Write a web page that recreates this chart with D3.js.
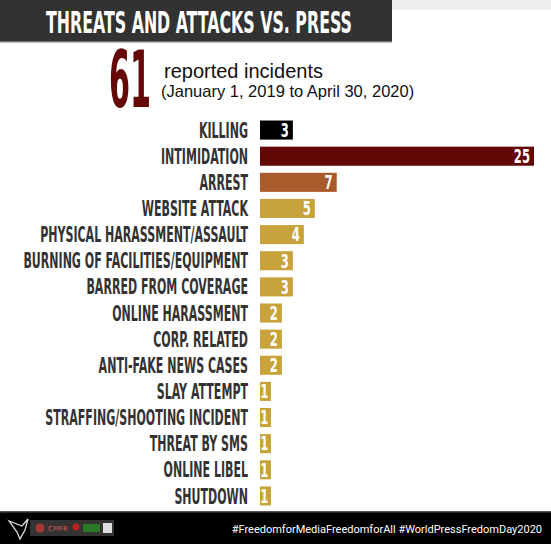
<!DOCTYPE html>
<html>
<head>
<meta charset="utf-8">
<script src="https://cdn.jsdelivr.net/npm/d3@7"></script>
<style>
	html, body { margin: 0; padding: 0; background: #fff; }
	svg { display: block; }
</style>
</head>
<body>
<svg id="chart" width="551" height="544"></svg>
<script>

// data
var categories = ["KILLING", "INTIMIDATION", "ARREST", "WEBSITE ATTACK", "PHYSICAL HARASSMENT/ASSAULT",
	"BURNING OF FACILITIES/EQUIPMENT", "BARRED FROM COVERAGE", "ONLINE HARASSMENT", "CORP. RELATED",
	"ANTI-FAKE NEWS CASES", "SLAY ATTEMPT", "STRAFFING/SHOOTING INCIDENT", "THREAT BY SMS", "ONLINE LIBEL", "SHUTDOWN"];
var counts = [3, 25, 7, 5, 4, 3, 3, 2, 2, 2, 1, 1, 1, 1, 1];
var barColors = ["#000000", "#620606", "#a95b2b", "#c8a23b", "#c8a23b", "#c8a23b", "#c8a23b", "#c8a23b",
	"#c8a23b", "#c8a23b", "#c8a23b", "#c8a23b", "#c8a23b", "#c8a23b", "#c8a23b"];
var total = "61";
var titleText = "THREATS AND ATTACKS VS. PRESS";
var subLine1 = "reported incidents";
var subLine2 = "(January 1, 2019 to April 30, 2020)";
var footerText = "#FreedomforMediaFreedomforAll #WorldPressFredomDay2020";

const condensed = "'DejaVu Sans Condensed', 'Liberation Sans Narrow', sans-serif";

const svg = d3.select('#chart');

// squeeze a text node horizontally so it spans the wanted width
function squeeze(sel, targetW, anchorX) {
	const w = sel.node().getComputedTextLength();
	const k = targetW / w;
	sel.attr("transform", "translate(" + anchorX + ",0) scale(" + k + ",1) translate(" + (-anchorX) + ",0)");
	return k;
}

//Top strip and title bar
svg.append("rect").attr("x", 392).attr("y", 0).attr("width", 159).attr("height", 10).attr("fill", "#efefef");
svg.append("rect").attr("x", 0).attr("y", 0).attr("width", 392).attr("height", 42).attr("fill", "#323232");
svg.append("rect").attr("x", 0).attr("y", 41).attr("width", 392).attr("height", 1.5).attr("fill", "#777");

var title = svg.append("text")
	.attr("x", 199).attr("y", 33.5)
	.attr("text-anchor", "middle")
	.attr("font-family", condensed)
	.attr("font-weight", "bold")
	.attr("font-size", 30)
	.attr("fill", "#fff")
	.text(titleText);
squeeze(title, 306, 199);

//Total and subtitle
var big = svg.append("text")
	.attr("x", 109).attr("y", 107)
	.attr("font-family", condensed)
	.attr("font-weight", "bold")
	.attr("font-size", 79)
	.attr("fill", "#650808")
	.text(total);
squeeze(big, 42, 109);

svg.append("text")
	.attr("x", 164).attr("y", 78)
	.attr("font-family", "'Liberation Sans', Arial, sans-serif")
	.attr("font-size", 20)
	.attr("fill", "#111")
	.text(subLine1);

svg.append("text")
	.attr("x", 161).attr("y", 97)
	.attr("font-family", "'Liberation Sans', Arial, sans-serif")
	.attr("font-size", 16.5)
	.attr("fill", "#111")
	.text(subLine2);

//Scales
const x = d3.scaleLinear().domain([0, 25]).range([260, 534]);
const y = d3.scaleBand().domain(categories).range([117, 509]).paddingInner(0.27).paddingOuter(0.135);

const rows = categories.map(function(c, i) { return { cat: c, n: counts[i], color: barColors[i] }; });

var group = svg.append("g").attr("class", "bars");

group.selectAll("rect.bar")
	.data(rows)
	.enter().append("rect")
	.attr("class", "bar")
	.attr("x", x(0))
	.attr("y", d => y(d.cat))
	.attr("width", d => x(d.n) - x(0))
	.attr("height", y.bandwidth())
	.attr("fill", d => d.color);

//Category labels, squeezed to a condensed look
var labels = group.selectAll("text.lab")
	.data(rows)
	.enter().append("text")
	.attr("class", "lab")
	.attr("x", 248)
	.attr("y", d => y(d.cat) + y.bandwidth() / 2 + 7.6)
	.attr("text-anchor", "end")
	.attr("font-family", condensed)
	.attr("font-weight", "bold")
	.attr("font-size", 21)
	.attr("fill", "#333");

labels.text(d => d.cat);
// one common squeeze factor, from the longest label
const refW = labels.filter(d => d.cat === "PHYSICAL HARASSMENT/ASSAULT").node().getComputedTextLength();
const kLab = 208 / refW;
labels.attr("transform", "translate(248,0) scale(" + kLab + ",1) translate(-248,0)");

//Value labels
var vals = group.selectAll("text.val")
	.data(rows)
	.enter().append("text")
	.attr("class", "val")
	.attr("y", d => y(d.cat) + y.bandwidth() / 2 + 6.8)
	.attr("text-anchor", "end")
	.attr("font-family", condensed)
	.attr("font-weight", "bold")
	.attr("font-size", 19)
	.attr("fill", "#fff")
	.text(d => d.n);
vals.each(function(d) {
	const ex = d.n === 1 ? x(d.n) - 2.5 : x(d.n) - 4;
	d3.select(this).attr("x", ex)
		.attr("transform", "translate(" + ex + ",0) scale(0.68,1) translate(" + (-ex) + ",0)");
});

//Footer
svg.append("rect").attr("x", 0).attr("y", 511).attr("width", 551).attr("height", 33).attr("fill", "#000");
svg.append("rect").attr("x", 0).attr("y", 511).attr("width", 551).attr("height", 1.5).attr("fill", "#555");

var foot = svg.append("g").attr("class", "logos");
// bird mark
foot.append("path")
	.attr("d", "M9,521 L22,526 L28,519 L25,530 L20,539 L17,532 L9,521 Z")
	.attr("fill", "none").attr("stroke", "#ddd").attr("stroke-width", 1.3);
foot.append("rect").attr("x", 30).attr("y", 520).attr("width", 84).attr("height", 16).attr("fill", "#333");
foot.append("circle").attr("cx", 40).attr("cy", 528).attr("r", 4.5).attr("fill", "#a33");
foot.append("text").attr("x", 48).attr("y", 531).attr("font-size", 7).attr("fill", "#c55")
	.attr("font-family", "'DejaVu Sans', sans-serif").text("CMFR");
foot.append("circle").attr("cx", 76).attr("cy", 527).attr("r", 3.5).attr("fill", "#b22");
foot.append("rect").attr("x", 83).attr("y", 524).attr("width", 17).attr("height", 8).attr("fill", "#2a7a2a");
foot.append("rect").attr("x", 103).attr("y", 523).attr("width", 9).attr("height", 10).attr("fill", "#ddd");

svg.append("text")
	.attr("x", 542).attr("y", 533)
	.attr("text-anchor", "end")
	.attr("font-family", "Roboto, sans-serif")
	.attr("font-size", 11)
	.attr("fill", "#fff")
	.text(footerText);

</script>
</body>
</html>
